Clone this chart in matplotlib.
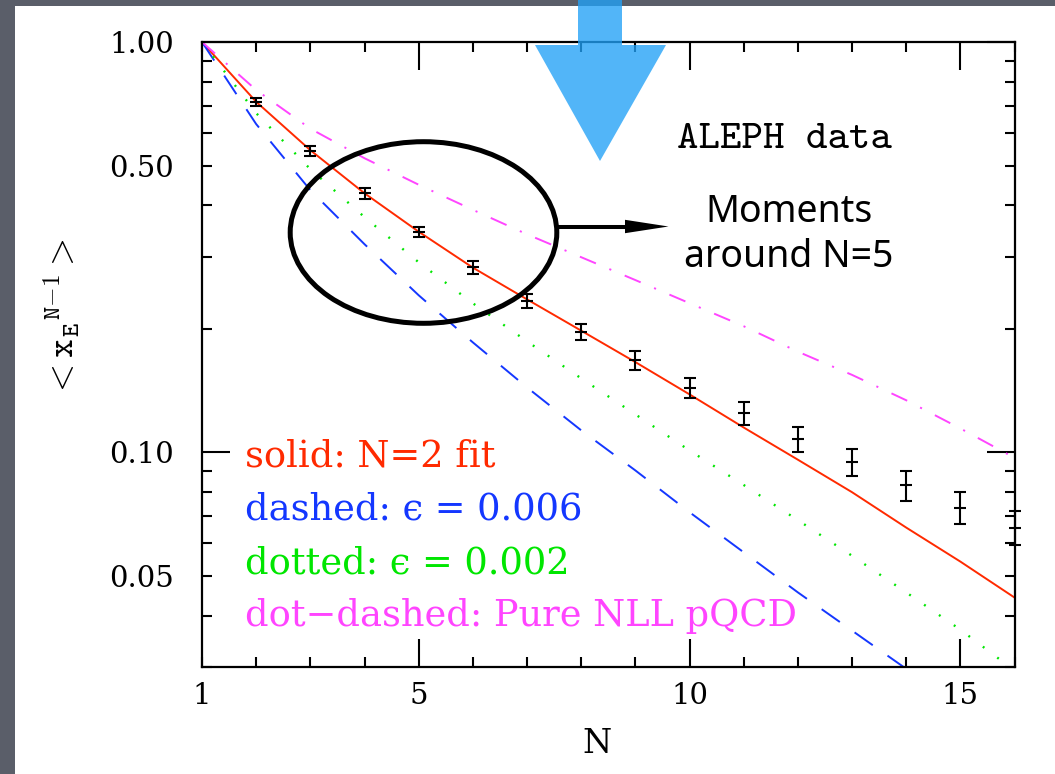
import numpy as np
import matplotlib
matplotlib.use("Agg")
import matplotlib.pyplot as plt
from matplotlib.ticker import FixedLocator, MultipleLocator, LogLocator, FuncFormatter
from matplotlib.patches import Ellipse, Polygon, Rectangle
from matplotlib.lines import Line2D

plt.rcParams['mathtext.fontset'] = 'cm'
plt.rcParams['lines.scale_dashes'] = False

# ---------------- data ----------------
N_curve = [1, 2, 3, 4, 5, 6, 7, 8, 9, 10, 11, 12, 13, 14, 15, 16]
fit_n2 = [1.0, 0.715, 0.545, 0.428, 0.345, 0.282, 0.236, 0.198, 0.166, 0.1385,
          0.115, 0.096, 0.080, 0.0656, 0.0542, 0.0443]
eps_006_N = [1, 2, 3, 4, 5, 6, 7, 8, 9, 10, 11, 12, 13, 14]
eps_006 = [1.0, 0.631, 0.4355, 0.3216, 0.2415, 0.1854, 0.144, 0.1132, 0.0904,
           0.0715, 0.0571, 0.0456, 0.0368, 0.0297]
eps_002 = [1.0, 0.671, 0.490, 0.3744, 0.2906, 0.2309, 0.1865, 0.1515, 0.1238,
           0.1011, 0.0833, 0.0684, 0.0560, 0.0456, 0.0370, 0.0294]
pure_nll = [1.0, 0.764, 0.615, 0.521, 0.449, 0.390, 0.340, 0.299, 0.263, 0.231,
            0.203, 0.176, 0.1545, 0.134, 0.1144, 0.097]

N_data = [2, 3, 4, 5, 6, 7, 8, 9, 10, 11, 12, 13, 14, 15, 16]
aleph = [0.715, 0.543, 0.4276, 0.3446, 0.2822, 0.2339, 0.1965, 0.1676, 0.1438,
         0.1245, 0.1080, 0.0947, 0.0831, 0.0734, 0.0656]
aleph_err = [0.0162, 0.0155, 0.0122, 0.0098, 0.0097, 0.0094, 0.0090, 0.0087,
             0.0083, 0.0079, 0.0075, 0.0072, 0.0068, 0.0065, 0.0062]

x_major = [5, 10, 15]
y_labelled = [1.0, 0.5, 0.1, 0.05]

legend_lines = ["solid: N=2 fit", "dashed: \u03f5 = 0.006",
                "dotted: \u03f5 = 0.002", "dot\u2212dashed: Pure NLL pQCD"]

RED = '#ff2a00'
BLUE = '#1437ff'
GREEN = '#00e600'
MAGENTA = '#ff45ff'

# ---------------- figure ----------------
W, H = 1055, 774
fig = plt.figure(figsize=(W / 100, H / 100), dpi=100)
fig.patch.set_facecolor('#5a5e69')

def fx(px):
    return px / W

def fy(py):
    return 1 - py / H

# white panel
fig.add_artist(Rectangle((fx(15), 0), 1 - fx(15), fy(6), transform=fig.transFigure,
                         facecolor='white', edgecolor='none', zorder=-5))

ax = fig.add_axes([fx(202), fy(667), fx(1014.5) - fx(202), fy(42) - fy(667)])
ax.set_facecolor('none')
ax.set_yscale('log')
ax.set_xlim(1, 16)
ax.set_ylim(0.03, 1.0)

ax.plot(N_curve, fit_n2, color=RED, lw=1.4, solid_capstyle='butt')
ax.plot(eps_006_N, eps_006, color=BLUE, lw=1.4, dashes=(16, 13))
ax.plot(N_curve, eps_002, color=GREEN, lw=1.7, dashes=(1.4, 11.6))
ax.plot(N_curve, pure_nll, color=MAGENTA, lw=1.4, dashes=(12.5, 10.5, 1.5, 10.5))

ax.errorbar(N_data, aleph, yerr=aleph_err, fmt='_', color='black', ms=8, mew=1.5,
            elinewidth=1.5, capsize=4, capthick=1.5, clip_on=False, zorder=4)

# ticks
ax.xaxis.set_major_locator(FixedLocator(x_major))
ax.xaxis.set_minor_locator(MultipleLocator(1))
ax.xaxis.set_major_formatter(FuncFormatter(lambda v, p: '%d' % v))
ax.xaxis.set_minor_formatter(FuncFormatter(lambda v, p: '1' if abs(v - 1) < 1e-6 else ''))

ax.yaxis.set_major_locator(LogLocator(base=10, numticks=10))
ax.yaxis.set_minor_locator(LogLocator(base=10, subs=np.arange(2, 10), numticks=20))

def ymaj(v, p):
    for t in y_labelled:
        if np.isclose(v, t):
            return '%.2f' % t
    return ''

ax.yaxis.set_major_formatter(FuncFormatter(ymaj))
ax.yaxis.set_minor_formatter(FuncFormatter(ymaj))

for which, length in (('major', 20), ('minor', 7.5)):
    ax.tick_params(axis='both', which=which, direction='in', length=length, width=1.5,
                   top=True, right=True, colors='black')
ax.tick_params(axis='y', which='both', pad=20, labelsize=21)
ax.tick_params(axis='x', which='both', pad=11, labelsize=21)
for lab in ax.get_xticklabels(which='both') + ax.get_yticklabels(which='both'):
    lab.set_fontfamily('DejaVu Serif')

for s in ax.spines.values():
    s.set_linewidth(1.6)

# axis titles
fig.text(fx(597), fy(753), 'N', family='DejaVu Serif', fontsize=24, ha='center', va='baseline')
fig.text(fx(62), fy(318), r'${<}\mathtt{x}_{\mathtt{E}}{}^{\mathtt{N{-}1}}{>}$', fontsize=26,
         rotation=90, ha='center', va='center')

# texts
fig.text(fx(677), fy(148), 'ALEPH data', family='cmtt10', fontsize=29.5, ha='left', va='baseline')
fig.text(fx(789), fy(222), 'Moments', family='Noto Sans', fontsize=27, ha='center', va='baseline')
fig.text(fx(789), fy(267), 'around N=5', family='Noto Sans', fontsize=27, ha='center', va='baseline')

leg_colors = [RED, BLUE, GREEN, MAGENTA]
leg_base = [466.7, 520, 573, 626.5]
for t, c, b in zip(legend_lines, leg_colors, leg_base):
    fig.text(fx(245), fy(b), t, family=['DejaVu Serif', 'DejaVu Sans'], fontsize=26.5,
             color=c, ha='left', va='baseline')

# ellipse highlight
fig.add_artist(Ellipse((fx(423.5), fy(232.5)), width=fx(2 * 133.3), height=2 * 90.8 / H,
                       transform=fig.transFigure, fill=False, edgecolor='black', lw=3.6, zorder=6))
# black arrow
fig.add_artist(Line2D([fx(557), fx(628)], [fy(226.5), fy(226.5)], transform=fig.transFigure,
                      color='black', lw=2.9, zorder=6))
fig.add_artist(Polygon([(fx(625), fy(219.8)), (fx(668.5), fy(226.5)), (fx(625), fy(233.2))],
                       closed=True, transform=fig.transFigure, facecolor='black',
                       edgecolor='none', zorder=6))
# big blue arrow
blue_pts = [(578, -5), (622, -5), (622, 45), (666, 45), (600, 161), (535, 45), (578, 45)]
fig.add_artist(Polygon([(fx(a), fy(b)) for a, b in blue_pts], closed=True,
                       transform=fig.transFigure, facecolor=(0.13, 0.63, 0.97),
                       edgecolor='none', alpha=0.78, zorder=7))

fig.savefig('out.png', dpi=100, facecolor=fig.get_facecolor())
